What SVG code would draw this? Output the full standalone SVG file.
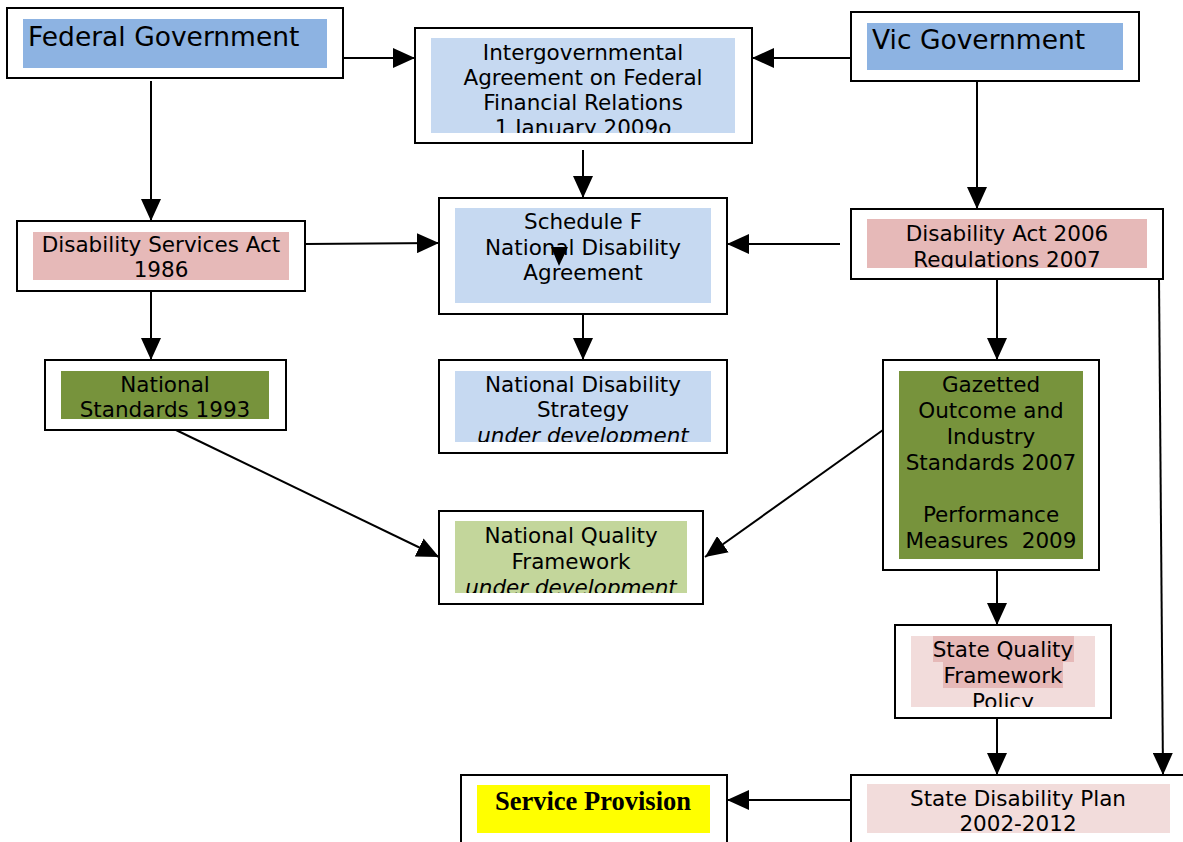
<svg xmlns="http://www.w3.org/2000/svg" width="1183" height="842" viewBox="0 0 1183 842">
<style>
.box{fill:#fff;stroke:#000;stroke-width:2}
.t{font-family:"DejaVu Sans",Verdana,sans-serif;font-size:21.5px;fill:#000;text-anchor:middle}
.big{font-family:"DejaVu Sans",Verdana,sans-serif;font-size:26.5px;fill:#000}
.it{font-style:italic}
.c{fill:none;stroke:#000;stroke-width:2}
</style>
<defs>
<marker id="ah" markerWidth="22" markerHeight="20" refX="22" refY="10" orient="auto" markerUnits="userSpaceOnUse">
<path d="M0,0 L22,10 L0,20 z" fill="#000"/>
</marker>
<clipPath id="cIGA"><rect x="431" y="38" width="304" height="95"/></clipPath>
<clipPath id="cDA"><rect x="867" y="219" width="280" height="49"/></clipPath>
<clipPath id="cNDS"><rect x="455" y="371" width="256" height="71"/></clipPath>
<clipPath id="cNQF"><rect x="455" y="521" width="232" height="72"/></clipPath>
<clipPath id="cSQF"><rect x="911" y="636" width="184" height="71"/></clipPath>
</defs>

<g id="connectors">
<line class="c" x1="343" y1="58" x2="415" y2="58" marker-end="url(#ah)"/>
<line class="c" x1="851" y1="58" x2="752" y2="58" marker-end="url(#ah)"/>
<line class="c" x1="151" y1="81" x2="151" y2="221" marker-end="url(#ah)"/>
<line class="c" x1="583" y1="150" x2="583" y2="198" marker-end="url(#ah)"/>
<line class="c" x1="977" y1="79" x2="977" y2="209" marker-end="url(#ah)"/>
<line class="c" x1="305" y1="244" x2="439" y2="243" marker-end="url(#ah)"/>
<line class="c" x1="840" y1="244" x2="727" y2="244" marker-end="url(#ah)"/>
<line class="c" x1="151" y1="291" x2="151" y2="360" marker-end="url(#ah)"/>
<line class="c" x1="583" y1="314" x2="583" y2="360" marker-end="url(#ah)"/>
<line class="c" x1="997" y1="279" x2="997" y2="360" marker-end="url(#ah)"/>
<line class="c" x1="1159" y1="279" x2="1163" y2="775" marker-end="url(#ah)"/>
<line class="c" x1="176" y1="430" x2="439" y2="557" marker-end="url(#ah)"/>
<line class="c" x1="883" y1="430" x2="705" y2="557" marker-end="url(#ah)"/>
<line class="c" x1="997" y1="570" x2="997" y2="625" marker-end="url(#ah)"/>
<line class="c" x1="997" y1="718" x2="997" y2="775" marker-end="url(#ah)"/>
<line class="c" x1="851" y1="800" x2="727" y2="800" marker-end="url(#ah)"/>
</g>

<g id="federal">
<rect class="box" x="7" y="8" width="336" height="70"/>
<rect x="23" y="19" width="304" height="49" fill="#8db3e2"/>
<text class="big" x="28" y="46">Federal Government</text>
</g>

<g id="iga">
<rect class="box" x="415" y="28" width="337" height="115"/>
<rect x="431" y="38" width="304" height="95" fill="#c6d9f1"/>
<g clip-path="url(#cIGA)">
<text class="t" x="583" y="60">Intergovernmental</text>
<text class="t" x="583" y="85">Agreement on Federal</text>
<text class="t" x="583" y="110">Financial Relations</text>
<text class="t" x="583" y="135">1 January 2009o</text>
</g>
</g>

<g id="vic">
<rect class="box" x="851" y="12" width="288" height="69"/>
<rect x="867" y="23" width="256" height="47" fill="#8db3e2"/>
<text class="big" x="872" y="49">Vic Government</text>
</g>

<g id="dsa">
<rect class="box" x="17" y="221" width="288" height="70"/>
<rect x="33" y="232" width="256" height="48" fill="#e6b9b8"/>
<text class="t" x="161" y="252">Disability Services Act</text>
<text class="t" x="161" y="277">1986</text>
</g>

<g id="schedulef">
<rect class="box" x="439" y="198" width="288" height="116"/>
<rect x="455" y="208" width="256" height="95" fill="#c6d9f1"/>
<text class="t" x="583" y="229">Schedule F</text>
<text class="t" x="583" y="255">National Disability</text>
<text class="t" x="583" y="280">Agreement</text>
<path d="M551,247 L568,247 L559,266 z" fill="#000"/>
</g>

<g id="da">
<rect class="box" x="851" y="209" width="312" height="70"/>
<rect x="867" y="219" width="280" height="49" fill="#e6b9b8"/>
<g clip-path="url(#cDA)">
<text class="t" x="1007" y="241">Disability Act 2006</text>
<text class="t" x="1007" y="267">Regulations 2007</text>
</g>
</g>

<g id="natstd">
<rect class="box" x="45" y="360" width="241" height="70"/>
<rect x="61" y="371" width="208" height="48" fill="#77933c"/>
<text class="t" x="165" y="392">National</text>
<text class="t" x="165" y="417">Standards 1993</text>
</g>

<g id="nds">
<rect class="box" x="439" y="360" width="288" height="93"/>
<rect x="455" y="371" width="256" height="71" fill="#c6d9f1"/>
<g clip-path="url(#cNDS)">
<text class="t" x="583" y="392">National Disability</text>
<text class="t" x="583" y="417">Strategy</text>
<text class="t it" x="583" y="443">under development</text>
</g>
</g>

<g id="gazetted">
<rect class="box" x="883" y="360" width="216" height="210"/>
<rect x="899" y="371" width="184" height="188" fill="#77933c"/>
<text class="t" x="991" y="392">Gazetted</text>
<text class="t" x="991" y="418">Outcome and</text>
<text class="t" x="991" y="444">Industry</text>
<text class="t" x="991" y="470">Standards 2007</text>
<text class="t" x="991" y="522">Performance</text>
<text class="t" x="991" y="548" xml:space="preserve">Measures  2009</text>
</g>

<g id="nqf">
<rect class="box" x="439" y="511" width="264" height="93"/>
<rect x="455" y="521" width="232" height="72" fill="#c3d69b"/>
<g clip-path="url(#cNQF)">
<text class="t" x="571" y="543">National Quality</text>
<text class="t" x="571" y="569">Framework</text>
<text class="t it" x="571" y="595">under development</text>
</g>
</g>

<g id="sqf">
<rect class="box" x="895" y="625" width="216" height="93"/>
<rect x="911" y="636" width="184" height="71" fill="#f2dcdb"/>
<rect x="933" y="636" width="141" height="26" fill="#e6b9b8"/>
<rect x="943" y="662" width="120" height="26" fill="#e6b9b8"/>
<g clip-path="url(#cSQF)">
<text class="t" x="1003" y="657">State Quality</text>
<text class="t" x="1003" y="683">Framework</text>
<text class="t" x="1003" y="709">Policy</text>
</g>
</g>

<g id="service">
<rect class="box" x="461" y="775" width="266" height="80"/>
<rect x="477" y="785" width="233" height="48" fill="#ffff00"/>
<text x="593" y="810" text-anchor="middle" font-family="'Liberation Serif','Times New Roman',serif" font-weight="bold" font-size="26.5">Service Provision</text>
</g>

<g id="sdp">
<rect class="box" x="851" y="775" width="345" height="80"/>
<rect x="867" y="784" width="303" height="49" fill="#f2dcdb"/>
<text class="t" x="1018" y="806">State Disability Plan</text>
<text class="t" x="1018" y="831">2002-2012</text>
</g>
</svg>
